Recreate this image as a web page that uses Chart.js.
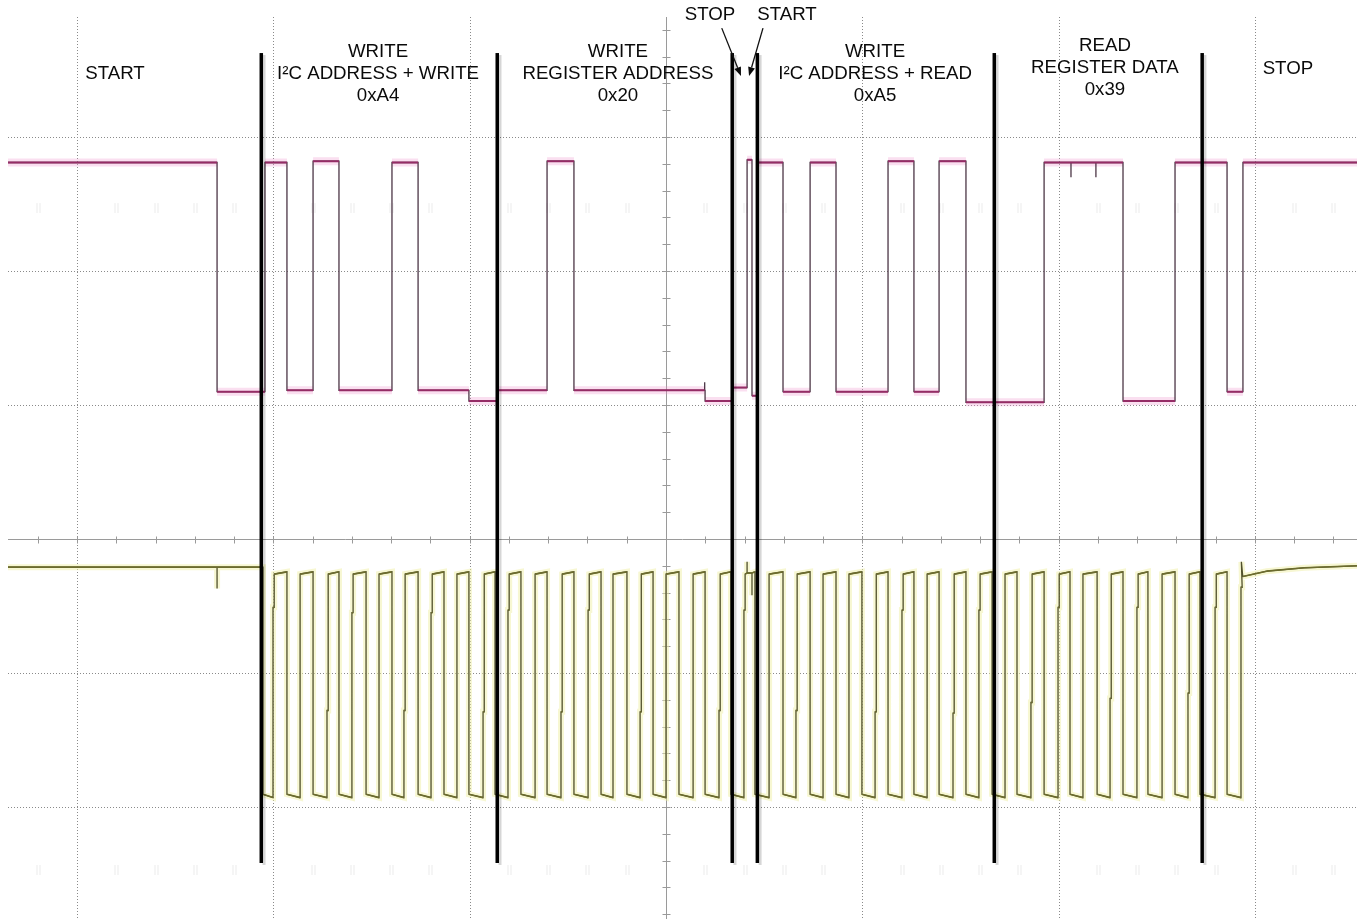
<!DOCTYPE html>
<html>
<head>
<meta charset="utf-8">
<title>I2C register read</title>
<script src="https://cdn.jsdelivr.net/npm/chart.js@4"></script>
<style>
  html, body { margin: 0; padding: 0; background: #fff; }
  #wrap { width: 1357px; height: 919px; }
</style>
</head>
<body>
<div id="wrap"><canvas id="scope" width="1357" height="919"></canvas></div>
<script>
// time in microseconds (10 us / div), vertical in screen divisions
const timeRange = [-33.52, 35.2];
const divRange = [-2.836, 3.896];
const gridTimes = [-30, -20, -10, 10, 20, 30];
const gridDivs = [3, 2, 1, -1, -2];
const ghostRows = [2.47, -2.47];

// SDA (magenta): edge times and the level after each edge
const sdaIdle = 2.81;
const sdaEdgeTimes = [-22.87, -20.43, -19.31, -17.98, -16.66, -13.96, -12.63, -10.04, -8.61, -6.06, -4.69,
  1.99, 3.38, 4.13, 4.38, 4.62, 5.96, 7.34, 8.66, 11.31, 12.63, 13.91, 15.28, 19.26, 23.28, 25.93, 28.58, 29.39];
const sdaEdgeLevels = [1.10, 2.81, 1.11, 2.82, 1.11, 2.81, 1.11, 1.03, 1.11, 2.82, 1.11,
  1.03, 1.13, 2.83, 1.07, 2.81, 1.10, 2.81, 1.10, 2.82, 1.10, 2.82, 1.02, 2.81, 1.03, 2.81, 1.10, 2.81];
const sdaGlitchTimes = [1.97, 20.63, 21.90];
const sdaGlitchLevels = [1.17, 2.70, 2.70];

// SCL (yellow): falling and rising edges, mid-edge shelf on some rises
const sclIdleLevels = [-0.21, -0.21];
const sclHighLevels = [-0.262, -0.245];
const sclLowLevels = [-1.905, -1.93];
const sclFall = [-20.53, -19.31, -17.98, -16.66, -15.28, -13.96, -12.63, -11.31, -10.04, -8.71,
  -7.39, -6.06, -4.69, -3.31, -1.99, -0.66, 0.66, 1.99, 3.31, 4.53,
  5.96, 7.34, 8.66, 9.98, 11.31, 12.63, 13.91, 15.28, 16.61,
  17.88, 19.26, 20.58, 21.96, 23.28, 24.55, 25.93, 27.20, 28.58];
const sclRise = [-20.02, -18.64, -17.27, -16.00, -14.62, -13.35, -11.97, -10.65, -9.32,
  -8.05, -6.67, -5.35, -3.97, -2.70, -1.32, 0.00, 1.38, 2.70, 3.97,
  5.25, 6.62, 8.00, 9.32, 10.65, 12.02, 13.30, 14.62, 15.94,
  17.27, 18.59, 19.97, 21.24, 22.62, 23.99, 25.27, 26.59, 27.97, 29.29];
const sclRiseStep = [-0.51, null, -1.28, -0.55, null, -1.28, -0.55, null, -1.29,
  -0.53, null, -1.29, -0.53, null, -1.29, null, null, -1.28, -0.53,
  null, -1.28, null, null, -1.29, -0.53, null, -1.30, -0.53,
  null, -1.22, -0.51, null, -1.19, -0.51, null, -1.15, -0.51, -0.36];
const sclGlitchTimes = [-22.87, 4.13, 4.38];
const sclGlitchLevels = [-0.37, -0.17, -0.42];
const sclTailTimes = [29.31, 29.38, 30.6, 32.5, 35.2];
const sclTailLevels = [-0.17, -0.28, -0.24, -0.215, -0.20];

// protocol annotations
const dividerTimes = [-20.63, -8.61, 3.36, 4.64, 16.71, 27.30];
const dividerSpan = [3.627, -2.418];
const labelTimes = [-28.07, -14.67, -2.45, 10.65, 22.36, 31.68, 2.24, 6.16];
const labelTops = [3.470, 3.638, 3.638, 3.638, 3.683, 3.507, 3.910, 3.910];
const labelTexts = [
  ['START'],
  ['WRITE', 'I²C ADDRESS + WRITE', '0xA4'],
  ['WRITE', 'REGISTER ADDRESS', '0x20'],
  ['WRITE', 'I²C ADDRESS + READ', '0xA5'],
  ['READ', 'REGISTER DATA', '0x39'],
  ['STOP'],
  ['STOP'],
  ['START']
];
const arrowFrom = [[2.84, 3.813], [4.94, 3.813]];
const arrowTo = [[3.82, 3.455], [4.23, 3.455]];

function buildSda() {
  const ev = [];
  sdaEdgeTimes.forEach((t, i) => ev.push({ t, type: 'edge', v: sdaEdgeLevels[i] }));
  sdaGlitchTimes.forEach((t, i) => ev.push({ t, type: 'glitch', v: sdaGlitchLevels[i] }));
  ev.sort((a, b) => a.t - b.t);
  let level = sdaIdle;
  const pts = [{ x: timeRange[0], y: level }];
  for (const e of ev) {
    pts.push({ x: e.t, y: level });
    if (e.type === 'edge') {
      level = e.v;
      pts.push({ x: e.t, y: level });
    } else {
      pts.push({ x: e.t, y: e.v }, { x: e.t, y: level });
    }
  }
  pts.push({ x: timeRange[1], y: level });
  return pts;
}

function buildScl() {
  const ev = [];
  sclFall.forEach(t => ev.push({ t, type: 'low' }));
  sclRise.forEach((t, i) => ev.push({ t, type: 'high', step: sclRiseStep[i] }));
  sclGlitchTimes.forEach((t, i) => ev.push({ t, type: 'glitch', v: sclGlitchLevels[i] }));
  ev.sort((a, b) => a.t - b.t);
  const lastRise = sclRise[sclRise.length - 1];
  let state = sclIdleLevels;
  const pts = [{ x: timeRange[0], y: state[0] }];
  for (const e of ev) {
    if (e.type === 'glitch') {
      const mid = (state[0] + state[1]) / 2;
      pts.push({ x: e.t, y: mid }, { x: e.t, y: e.v }, { x: e.t, y: mid });
      continue;
    }
    pts.push({ x: e.t, y: state[1] });
    let tx = e.t;
    if (e.type === 'high' && e.step != null) {
      tx = e.t + 0.06;
      pts.push({ x: e.t, y: e.step }, { x: tx, y: e.step });
    }
    if (e.type === 'high' && e.t === lastRise) break;
    state = e.type === 'high' ? sclHighLevels : sclLowLevels;
    pts.push({ x: tx, y: state[0] });
  }
  sclTailTimes.forEach((t, i) => pts.push({ x: t, y: sclTailLevels[i] }));
  return pts;
}

// keep only the flat stretches of a trace (they glow brighter on the scope)
function flatParts(pts) {
  const out = [];
  for (let i = 1; i < pts.length; i++) {
    const p = pts[i - 1], q = pts[i];
    if (q.x - p.x > 0.05 && Math.abs(q.y - p.y) < 0.1) {
      out.push({ x: p.x, y: p.y }, { x: q.x, y: q.y }, { x: q.x + 0.001, y: null });
    }
  }
  return out;
}

const sdaData = buildSda();
const sclData = buildScl();
const sdaFlat = flatParts(sdaData);
const sclFlat = flatParts(sclData);

const graticule = {
  id: 'graticule',
  beforeDatasetsDraw(chart) {
    const { ctx, chartArea: a, scales: { x, y } } = chart;
    ctx.save();
    ctx.lineWidth = 1;
    // faint ghost marks of the scope screen
    ctx.strokeStyle = '#ebebeb';
    ghostRows.forEach(d => {
      const py = y.getPixelForValue(d);
      for (let t = Math.ceil(x.min / 2) * 2; t <= x.max; t += 2) {
        if (Math.abs(t % 10) < 0.01) continue;
        const px = Math.round(x.getPixelForValue(t)) + 0.5;
        ctx.beginPath();
        ctx.moveTo(px - 1.5, py - 5); ctx.lineTo(px - 1.5, py + 5);
        ctx.moveTo(px + 1.5, py - 5); ctx.lineTo(px + 1.5, py + 5);
        ctx.stroke();
      }
    });
    ctx.strokeStyle = '#8a8a8a';
    ctx.setLineDash([1, 2]);
    gridTimes.forEach(t => {
      const px = Math.round(x.getPixelForValue(t)) + 0.5;
      ctx.beginPath(); ctx.moveTo(px, a.top); ctx.lineTo(px, a.bottom); ctx.stroke();
    });
    gridDivs.forEach(d => {
      const py = Math.round(y.getPixelForValue(d)) + 0.5;
      ctx.beginPath(); ctx.moveTo(a.left, py); ctx.lineTo(a.right, py); ctx.stroke();
    });
    ctx.setLineDash([]);
    ctx.strokeStyle = '#9a9a9a';
    const cx = Math.round(x.getPixelForValue(0)) + 0.5;
    const cy = Math.round(y.getPixelForValue(0)) + 0.5;
    ctx.beginPath();
    ctx.moveTo(cx, a.top); ctx.lineTo(cx, a.bottom);
    ctx.moveTo(a.left, cy); ctx.lineTo(a.right, cy);
    ctx.stroke();
    ctx.beginPath();
    for (let t = Math.ceil(x.min / 2) * 2; t <= x.max; t += 2) {
      const px = Math.round(x.getPixelForValue(t)) + 0.5;
      ctx.moveTo(px, cy - 3); ctx.lineTo(px, cy + 4);
    }
    for (let d = Math.ceil(y.min / 0.2) * 0.2; d <= y.max; d += 0.2) {
      const py = Math.round(y.getPixelForValue(d)) + 0.5;
      ctx.moveTo(cx - 4, py); ctx.lineTo(cx + 4, py);
    }
    ctx.stroke();
    ctx.restore();
  }
};

const annotations = {
  id: 'annotations',
  afterDatasetsDraw(chart) {
    const { ctx, scales: { x, y } } = chart;
    ctx.save();
    const top = y.getPixelForValue(dividerSpan[0]);
    const bottom = y.getPixelForValue(dividerSpan[1]);
    dividerTimes.forEach(t => {
      const px = x.getPixelForValue(t);
      ctx.fillStyle = 'rgba(0,0,0,0.16)';
      ctx.fillRect(px + 1.5, top + 2, 3, bottom - top);
      ctx.fillStyle = '#000';
      ctx.fillRect(px - 1.5, top, 3.5, bottom - top);
    });

    ctx.fillStyle = '#0a0a0a';
    ctx.font = '18.7px "Liberation Sans", Arial, sans-serif';
    ctx.textAlign = 'center';
    ctx.textBaseline = 'middle';
    labelTexts.forEach((lines, i) => {
      const px = x.getPixelForValue(labelTimes[i]);
      const py = y.getPixelForValue(labelTops[i]);
      lines.forEach((s, j) => ctx.fillText(s, px, py + j * 22));
    });

    ctx.strokeStyle = '#111';
    ctx.lineWidth = 1.3;
    arrowFrom.forEach((f, i) => {
      const x0 = x.getPixelForValue(f[0]), y0 = y.getPixelForValue(f[1]);
      const x1 = x.getPixelForValue(arrowTo[i][0]), y1 = y.getPixelForValue(arrowTo[i][1]);
      const ang = Math.atan2(y1 - y0, x1 - x0);
      const len = 9, half = 3.5;
      const bx = x1 - len * Math.cos(ang), by = y1 - len * Math.sin(ang);
      ctx.beginPath(); ctx.moveTo(x0, y0); ctx.lineTo(bx, by); ctx.stroke();
      ctx.beginPath();
      ctx.moveTo(x1, y1);
      ctx.lineTo(bx + half * Math.sin(ang), by - half * Math.cos(ang));
      ctx.lineTo(bx - half * Math.sin(ang), by + half * Math.cos(ang));
      ctx.closePath();
      ctx.fill();
    });
    ctx.restore();
  }
};

new Chart(document.getElementById('scope'), {
  type: 'line',
  data: {
    datasets: [
      { label: 'SDA glow', data: sdaFlat, borderColor: 'rgba(240,150,205,0.30)', borderWidth: 8, order: 4 },
      { label: 'SCL glow', data: sclData, borderColor: 'rgba(240,240,165,0.50)', borderWidth: 6, order: 4 },
      { label: 'SDA', data: sdaData, borderColor: '#4c3646', borderWidth: 1.3, order: 2 },
      { label: 'SCL', data: sclData, borderColor: '#50502c', borderWidth: 1.3, order: 2 },
      { label: 'SDA level', data: sdaFlat, borderColor: '#952c66', borderWidth: 2, order: 1 },
      { label: 'SCL level', data: sclFlat, borderColor: '#6c6c2e', borderWidth: 1.6, order: 1 }
    ]
  },
  options: {
    responsive: false,
    animation: false,
    parsing: false,
    spanGaps: false,
    layout: { padding: { left: 8, top: 17, right: 0, bottom: 0 } },
    elements: { point: { radius: 0 }, line: { tension: 0, borderJoinStyle: 'miter' } },
    scales: {
      x: { type: 'linear', display: false, min: timeRange[0], max: timeRange[1] },
      y: { type: 'linear', display: false, min: divRange[0], max: divRange[1] }
    },
    plugins: { legend: { display: false }, tooltip: { enabled: false } }
  },
  plugins: [graticule, annotations]
});
</script>
</body>
</html>
